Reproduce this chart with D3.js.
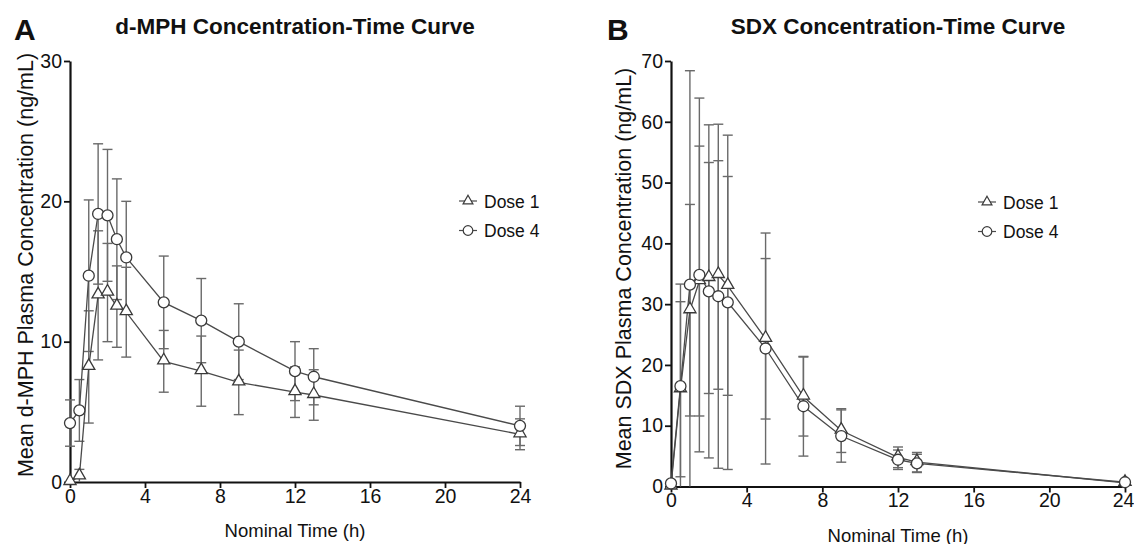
<!DOCTYPE html>
<html>
<head>
<meta charset="utf-8">
<script src="https://cdn.jsdelivr.net/npm/d3@7"></script>
<style>
  html, body { margin: 0; padding: 0; background: #fff; }
  svg { display: block; font-family: "Liberation Sans", Arial, Helvetica, sans-serif; }
</style>
</head>
<body>
<svg id="chart" width="1134" height="544"></svg>
<script>
// ---------- data ----------
const times = [0, 0.5, 1, 1.5, 2, 2.5, 3, 5, 7, 9, 12, 13, 24];
const xTicks = [0, 4, 8, 12, 16, 20, 24];

// Panel A: d-MPH (ng/mL), mean and SD
const mphDose1   = [0, 0.4, 8.2, 13.3, 13.5, 12.5, 12.1, 8.6, 7.9, 7.1, 6.4, 6.2, 3.4];
const mphDose1Sd = [0, 0.5, 4.0, 4.6, 3.5, 2.9, 3.2, 2.2, 2.5, 2.3, 1.8, 1.8, 1.1];
const mphDose4   = [4.2, 5.1, 14.7, 19.1, 19.0, 17.3, 16.0, 12.8, 11.5, 10.0, 7.9, 7.5, 4.0];
const mphDose4Sd = [1.65, 2.2, 5.4, 5.0, 4.7, 4.3, 4.0, 3.3, 3.0, 2.7, 2.1, 2.0, 1.4];
const mphYTicks  = [0, 10, 20, 30];

// Panel B: SDX (ng/mL), mean and SD
const sdxDose1   = [0, 16.0, 29.0, 33.8, 34.3, 34.8, 33.0, 24.3, 14.8, 9.2, 4.8, 4.0, 0.6];
const sdxDose1Sd = [0, 14.4, 17.4, 22.2, 19.0, 18.8, 18.0, 13.2, 6.5, 3.6, 1.7, 1.6, 0.3];
const sdxDose4   = [0.5, 16.5, 33.2, 34.8, 32.1, 31.3, 30.3, 22.7, 13.2, 8.3, 4.4, 3.8, 0.7];
const sdxDose4Sd = [0.3, 16.8, 35.2, 29.1, 27.4, 28.3, 27.5, 19.0, 8.2, 4.3, 1.6, 1.5, 0.3];
const sdxYTicks  = [0, 10, 20, 30, 40, 50, 60, 70];

const seriesNames = ["Dose 1", "Dose 4"];

// ---------- drawing ----------
const svg = d3.select("#chart");
const LINE = "#4a4a4a", BAR = "#6a6a6a", MARK = "#3a3a3a", AXIS = "#111";

const triBig = d3.symbol().type(d3.symbolTriangle).size(64);
const triSmall = d3.symbol().type(d3.symbolTriangle).size(42);

function panel(cfg) {
  const g = svg.append("g");
  const x = d3.scaleLinear().domain([0, 24]).range(cfg.xRange);
  const y = d3.scaleLinear().domain([0, cfg.yMax]).range(cfg.yRange);

  // panel letter and title
  g.append("text").attr("x", cfg.letterX).attr("y", 40)
    .attr("font-size", 30).attr("font-weight", "bold").attr("fill", "#111").text(cfg.letter);
  g.append("text").attr("x", (cfg.xRange[0] + cfg.xRange[1]) / 2).attr("y", 34)
    .attr("text-anchor", "middle").attr("font-size", 22.5).attr("font-weight", "bold")
    .attr("fill", "#111").text(cfg.title);

  // axes
  const xAxis = g.append("g").attr("transform", `translate(0,${cfg.yRange[0]})`)
    .call(d3.axisBottom(x).tickValues(xTicks).tickSize(6).tickSizeOuter(0).tickPadding(1));
  const yAxis = g.append("g").attr("transform", `translate(${cfg.xRange[0]},0)`)
    .call(d3.axisLeft(y).tickValues(cfg.yTicks).tickSize(6).tickSizeOuter(0).tickPadding(2));
  [xAxis, yAxis].forEach(a => {
    a.attr("font-size", 19.5).attr("font-family", "'Liberation Sans', Arial, sans-serif");
    a.select(".domain").attr("stroke", AXIS).attr("stroke-width", 2.2);
    a.selectAll(".tick line").attr("stroke", AXIS).attr("stroke-width", 1.8);
    a.selectAll(".tick text").attr("font-size", 19.5).attr("fill", "#111");
  });
  if (cfg.lastTickDx) {
    xAxis.selectAll(".tick text").filter(d => d === 24).attr("dx", cfg.lastTickDx);
  }

  // axis titles
  g.append("text").attr("x", (cfg.xRange[0] + cfg.xRange[1]) / 2).attr("y", cfg.yRange[0] + 55)
    .attr("text-anchor", "middle").attr("font-size", 18.5).attr("fill", "#111").text("Nominal Time (h)");
  const yc = (cfg.yTitleTop + cfg.yTitleBottom) / 2;
  g.append("text").attr("transform", `translate(${cfg.yTitleX},${yc}) rotate(-90)`)
    .attr("text-anchor", "middle").attr("font-size", 21.5).attr("fill", "#111").text(cfg.yTitle);

  const series = [
    { name: seriesNames[0], v: cfg.d1, sd: cfg.d1sd, shape: "tri" },
    { name: seriesNames[1], v: cfg.d4, sd: cfg.d4sd, shape: "circ" }
  ];

  // error bars
  const eb = g.append("g").attr("stroke", BAR).attr("stroke-width", 1.4).attr("fill", "none");
  series.forEach(s => {
    times.forEach((t, i) => {
      const sd = s.sd[i];
      if (!sd) return;
      const hi = s.v[i] + sd, lo = s.v[i] - sd;
      const xp = x(t);
      eb.append("line").attr("x1", xp).attr("x2", xp)
        .attr("y1", y(Math.max(0, lo))).attr("y2", y(hi));
      eb.append("line").attr("x1", xp - 5).attr("x2", xp + 5).attr("y1", y(hi)).attr("y2", y(hi));
      if (lo > 0) eb.append("line").attr("x1", xp - 5).attr("x2", xp + 5).attr("y1", y(lo)).attr("y2", y(lo));
    });
  });

  // lines
  const line = d3.line().x((d, i) => x(times[i])).y(d => y(d));
  series.forEach(s => {
    g.append("path").datum(s.v).attr("d", line)
      .attr("fill", "none").attr("stroke", LINE).attr("stroke-width", 1.3);
  });

  // markers
  series.forEach(s => {
    const mg = g.append("g");
    s.v.forEach((v, i) => {
      if (s.shape === "circ") {
        mg.append("circle").attr("cx", x(times[i])).attr("cy", y(v)).attr("r", 5.5)
          .attr("fill", "#fff").attr("stroke", MARK).attr("stroke-width", 1.3);
      } else {
        mg.append("path").attr("d", triBig)
          .attr("transform", `translate(${x(times[i])},${y(v) - 1})`)
          .attr("fill", "#fff").attr("stroke", MARK).attr("stroke-width", 1.3);
      }
    });
  });

  // legend
  const lg = g.append("g");
  series.forEach((s, k) => {
    const cy = cfg.legY + k * 29.5;
    const cx = cfg.legX;
    lg.append("line").attr("x1", cx - 9).attr("x2", cx + 9).attr("y1", cy).attr("y2", cy)
      .attr("stroke", LINE).attr("stroke-width", 1.2);
    if (s.shape === "circ") {
      lg.append("circle").attr("cx", cx).attr("cy", cy).attr("r", 4.8)
        .attr("fill", "#fff").attr("stroke", MARK).attr("stroke-width", 1.2);
    } else {
      lg.append("path").attr("d", triSmall).attr("transform", `translate(${cx},${cy})`)
        .attr("fill", "#fff").attr("stroke", MARK).attr("stroke-width", 1.2);
    }
    lg.append("text").attr("x", cx + 16).attr("y", cy + 6.5).attr("font-size", 17.5)
      .attr("fill", "#111").text(s.name);
  });
}

panel({
  letter: "A", letterX: 14, title: "d-MPH Concentration-Time Curve",
  xRange: [70, 520], yRange: [482, 61], yMax: 30, yTicks: mphYTicks,
  yTitle: "Mean d-MPH Plasma Concentration (ng/mL)", yTitleX: 33, yTitleTop: 48, yTitleBottom: 482,
  d1: mphDose1, d1sd: mphDose1Sd, d4: mphDose4, d4sd: mphDose4Sd,
  legX: 468, legY: 201
});

panel({
  letter: "B", letterX: 607, title: "SDX Concentration-Time Curve",
  xRange: [671, 1125], yRange: [486.5, 61], yMax: 70, yTicks: sdxYTicks,
  yTitle: "Mean SDX Plasma Concentration (ng/mL)", yTitleX: 631, yTitleTop: 65, yTitleBottom: 472,
  d1: sdxDose1, d1sd: sdxDose1Sd, d4: sdxDose4, d4sd: sdxDose4Sd,
  legX: 987, legY: 202, lastTickDx: -2
});
</script>
</body>
</html>
